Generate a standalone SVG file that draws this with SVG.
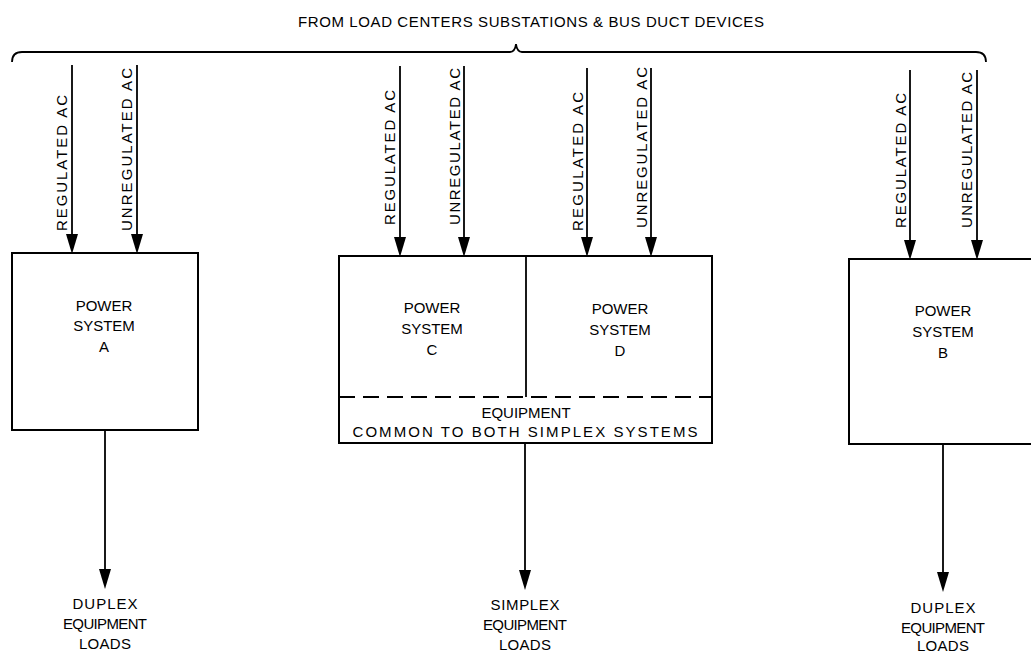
<svg xmlns="http://www.w3.org/2000/svg" width="1031" height="652" viewBox="0 0 1031 652">
<style>
.t{font-family:"Liberation Sans",Arial,sans-serif;font-size:15px;fill:#000;text-anchor:middle}
.v{font-family:"Liberation Sans",Arial,sans-serif;font-size:15px;fill:#000;text-anchor:start}
.box{fill:none;stroke:#000;stroke-width:2}
.ln{fill:none;stroke:#000;stroke-width:1.8}
.hd{fill:#000}
</style>
<rect width="1031" height="652" fill="#fff"/>
<text class="t" x="531" y="27" textLength="466" lengthAdjust="spacing">FROM LOAD CENTERS SUBSTATIONS &amp; BUS DUCT DEVICES</text>
<path class="ln" d="M12,62 Q12,52 22,52 L510,52 Q515,52 516,44 Q517,52 522,52 L976,52 Q986,52 986,62"/>

<g id="power-system-a">
<rect class="box" x="12" y="253" width="186" height="177"/>
<text class="t" x="104" y="311">POWER</text>
<text class="t" x="104" y="331">SYSTEM</text>
<text class="t" x="104" y="352">A</text>
</g>
<g id="power-system-cd">
<rect class="box" x="339" y="256" width="373" height="187"/>
<line class="ln" x1="526" y1="256" x2="526" y2="397"/>
<line x1="339" y1="397" x2="712" y2="397" stroke="#000" stroke-width="2" stroke-dasharray="16,8"/>
<text class="t" x="432" y="313">POWER</text>
<text class="t" x="432" y="334">SYSTEM</text>
<text class="t" x="432" y="355">C</text>
<text class="t" x="620" y="314">POWER</text>
<text class="t" x="620" y="335">SYSTEM</text>
<text class="t" x="620" y="356">D</text>
<text class="t" x="526" y="418">EQUIPMENT</text>
<text class="t" x="525" y="437" textLength="345" lengthAdjust="spacing">COMMON TO BOTH  SIMPLEX  SYSTEMS</text>
</g>
<g id="power-system-b">
<rect class="box" x="849" y="259" width="190" height="185"/>
<text class="t" x="943" y="316">POWER</text>
<text class="t" x="943" y="337">SYSTEM</text>
<text class="t" x="943" y="358">B</text>
</g>

<g id="connectors">
<line class="ln" x1="72" y1="65" x2="72" y2="240"/><polygon class="hd" points="66,234 78,234 72,254"/>
<line class="ln" x1="137" y1="65" x2="137" y2="240"/><polygon class="hd" points="131,234 143,234 137,254"/>
<line class="ln" x1="400" y1="66" x2="400" y2="243"/><polygon class="hd" points="394,237 406,237 400,257"/>
<line class="ln" x1="464" y1="66" x2="464" y2="243"/><polygon class="hd" points="458,237 470,237 464,257"/>
<line class="ln" x1="587" y1="68" x2="587" y2="243"/><polygon class="hd" points="581,237 593,237 587,257"/>
<line class="ln" x1="651" y1="68" x2="651" y2="243"/><polygon class="hd" points="645,237 657,237 651,257"/>
<line class="ln" x1="910" y1="70" x2="910" y2="246"/><polygon class="hd" points="904,240 916,240 910,260"/>
<line class="ln" x1="977" y1="70" x2="977" y2="246"/><polygon class="hd" points="971,240 983,240 977,260"/>
<line class="ln" x1="105" y1="430" x2="105" y2="575"/><polygon class="hd" points="99,569 111,569 105,589"/>
<line class="ln" x1="525" y1="443" x2="525" y2="576"/><polygon class="hd" points="519,570 531,570 525,590"/>
<line class="ln" x1="943" y1="444" x2="943" y2="578"/><polygon class="hd" points="937,572 949,572 943,592"/>
</g>

<g id="input-labels">
<text class="v" transform="translate(67,231) rotate(-90)" textLength="136" lengthAdjust="spacing">REGULATED  AC</text>
<text class="v" transform="translate(132,231) rotate(-90)" textLength="163" lengthAdjust="spacing">UNREGULATED  AC</text>
<text class="v" transform="translate(395,225) rotate(-90)" textLength="135" lengthAdjust="spacing">REGULATED  AC</text>
<text class="v" transform="translate(460,225) rotate(-90)" textLength="157" lengthAdjust="spacing">UNREGULATED  AC</text>
<text class="v" transform="translate(583,231) rotate(-90)" textLength="139" lengthAdjust="spacing">REGULATED  AC</text>
<text class="v" transform="translate(647,228) rotate(-90)" textLength="161" lengthAdjust="spacing">UNREGULATED  AC</text>
<text class="v" transform="translate(906,228) rotate(-90)" textLength="135" lengthAdjust="spacing">REGULATED  AC</text>
<text class="v" transform="translate(972,228) rotate(-90)" textLength="156" lengthAdjust="spacing">UNREGULATED  AC</text>
</g>

<g id="load-a">
<text class="t" x="105" y="609" textLength="65" lengthAdjust="spacing">DUPLEX</text>
<text class="t" x="105" y="629" textLength="84" lengthAdjust="spacing">EQUIPMENT</text>
<text class="t" x="105" y="649" textLength="52" lengthAdjust="spacing">LOADS</text>
</g>
<g id="load-simplex">
<text class="t" x="525" y="610" textLength="69" lengthAdjust="spacing">SIMPLEX</text>
<text class="t" x="525" y="630" textLength="84" lengthAdjust="spacing">EQUIPMENT</text>
<text class="t" x="525" y="650" textLength="52" lengthAdjust="spacing">LOADS</text>
</g>
<g id="load-b">
<text class="t" x="943" y="613" textLength="65" lengthAdjust="spacing">DUPLEX</text>
<text class="t" x="943" y="633" textLength="84" lengthAdjust="spacing">EQUIPMENT</text>
<text class="t" x="943" y="651" textLength="52" lengthAdjust="spacing">LOADS</text>
</g>
</svg>
